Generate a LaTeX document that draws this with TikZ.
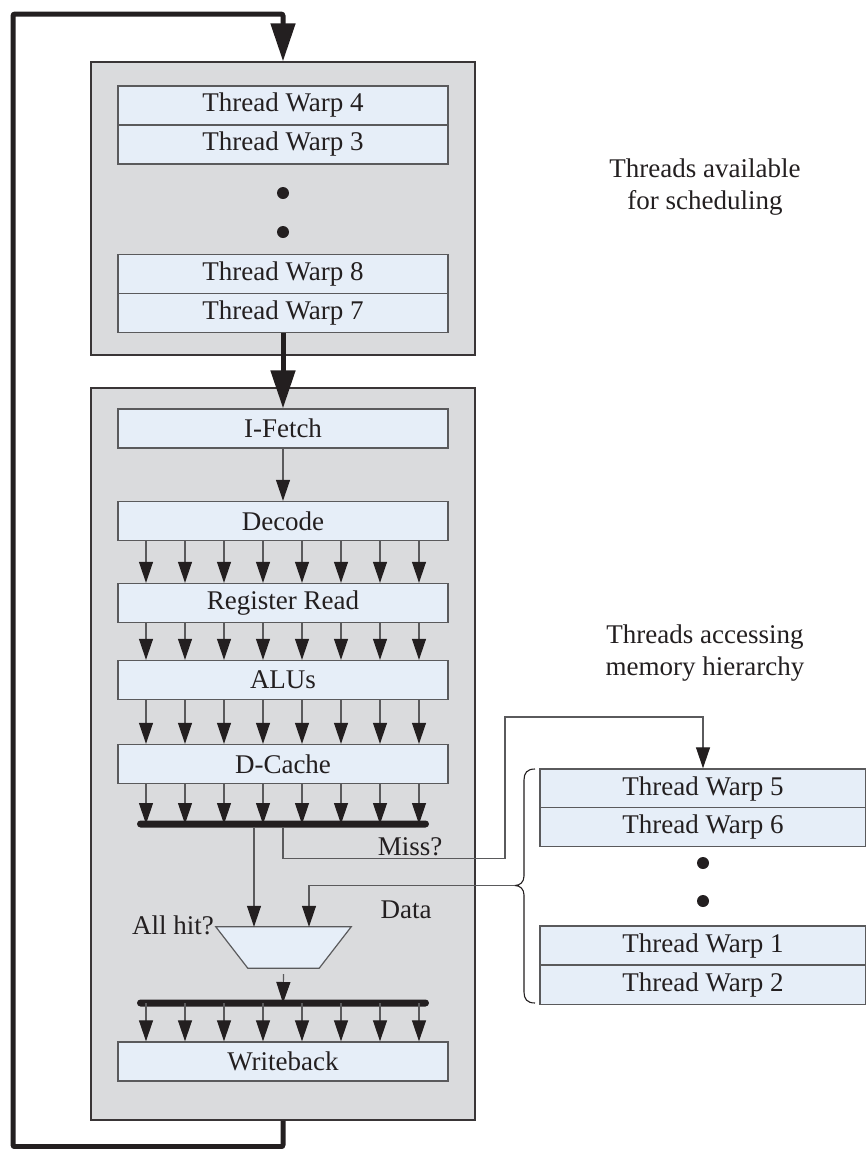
\documentclass[tikz,border=0pt]{standalone}
\usepackage{fontspec}
\setmainfont{Liberation Serif}
\usetikzlibrary{arrows.meta}
\definecolor{ink}{HTML}{231F20}
\definecolor{panel}{HTML}{DADBDD}
\definecolor{cell}{HTML}{E6EEF8}
\definecolor{edge}{HTML}{5A5A5C}
\begin{document}
\begin{tikzpicture}[x=1pt,y=-1pt,
  font=\fontsize{27}{32}\selectfont, text=ink,
  panelbox/.style={draw=ink!90, line width=1.4pt, fill=panel, inner sep=0pt},
  cellbox/.style={draw=edge, line width=1.4pt, fill=cell, inner sep=0pt,
    minimum width=330pt, minimum height=39pt},
  warpbox/.style={cellbox, minimum width=326pt},
  busbar/.style={fill=ink, inner sep=0pt, minimum width=292pt,
    minimum height=7pt, rounded corners=3.5pt},
  dotmark/.style={circle, fill=ink, inner sep=0pt, minimum size=12pt},
  lbl/.style={inner sep=0pt, align=center},
  thickarrow/.style={draw=ink, line width=5pt, rounded corners=2pt,
    -{Triangle[length=38pt,width=24pt,color=ink]}},
  thinline/.style={draw=edge, line width=1.2pt},
  thinarrow/.style={thinline, -{Triangle[length=21pt,width=14pt,color=ink]}}
]
\useasboundingbox (0,0) rectangle (866,1149);

% grey panels
\node[panelbox, minimum width=384pt, minimum height=293pt] (sched) at (283,208.5) {};
\node[panelbox, minimum width=384pt, minimum height=732pt] (pipe) at (283,754) {};

% warps waiting to be scheduled
\node[cellbox] (w4) at (283,105.5) {Thread Warp 4};
\node[cellbox] (w3) at (283,144.5) {Thread Warp 3};
\node[dotmark] (sd1) at (283,193) {};
\node[dotmark] (sd2) at (283,232) {};
\node[cellbox] (w8) at (283,274) {Thread Warp 8};
\node[cellbox] (w7) at (283,313) {Thread Warp 7};

% pipeline stages
\node[cellbox] (ifetch) at (283,428.5) {I-Fetch};
\node[cellbox] (dec) at (283,521) {Decode};
\node[cellbox] (rr) at (283,603) {Register Read};
\node[cellbox] (alu) at (283,680) {ALUs};
\node[cellbox] (dc) at (283,764) {D-Cache};
\node[busbar] (bus1) at (283,824) {};
\node[minimum width=135pt, minimum height=41pt, inner sep=0pt] (mux) at (283.5,947.5) {};
\draw[thinline, fill=cell] (mux.north west) -- (mux.north east)
  -- ([xshift=-32pt]mux.south east) -- ([xshift=32pt]mux.south west) -- cycle;
\node[busbar] (bus2) at (283,1003) {};
\node[cellbox] (wb) at (283,1061.5) {Writeback};

% warps waiting on memory
\node[warpbox] (w5) at (703,788.5) {Thread Warp 5};
\node[warpbox] (w6) at (703,827) {Thread Warp 6};
\node[dotmark] (md1) at (703,863) {};
\node[dotmark] (md2) at (703,901) {};
\node[warpbox] (w1) at (703,945.5) {Thread Warp 1};
\node[warpbox] (w2) at (703,985) {Thread Warp 2};

% labels
\node[lbl] (avail) at (705,187) {Threads available\\for scheduling};
\node[lbl] (access) at (705,653) {Threads accessing\\memory hierarchy};
\node[lbl] (miss) at (410,847) {Miss?};
\node[lbl] (data) at (406,910) {Data};
\node[lbl, anchor=east] (allhit) at (214,925) {All hit?};

% issue loop
\draw[thickarrow] (pipe.south) -- ++(0,26) -| (13,14) -| (sched.north);
\draw[thickarrow] (w7.south) -- (ifetch.north);
\draw[thinarrow] (ifetch.south) -- (dec.north);

% per-lane connections
\foreach \i in {0,...,7} {
  \draw[thinarrow] ([xshift={-137pt+\i*39pt}]dec.south) -- ([xshift={-137pt+\i*39pt}]rr.north);
  \draw[thinarrow] ([xshift={-137pt+\i*39pt}]rr.south) -- ([xshift={-137pt+\i*39pt}]alu.north);
  \draw[thinarrow] ([xshift={-137pt+\i*39pt}]alu.south) -- ([xshift={-137pt+\i*39pt}]dc.north);
  \draw[thinarrow] ([xshift={-137pt+\i*39pt}]dc.south) -- ([xshift={-137pt+\i*39pt}]bus1.center);
  \draw[thinarrow] ([xshift={-137pt+\i*39pt}]bus2.center) -- ([xshift={-137pt+\i*39pt}]wb.north);
}

% hit path, miss path and returning data
\draw[thinarrow] ([xshift=-29pt]bus1.south) -- ([xshift=-29.5pt]mux.north);
\draw[thinarrow] (bus1.south) -- ++(0,31) -| (505,717) -| (w5.north);
\coordinate (brtip) at (515,885.5);
\draw[thinline, draw=ink, line width=1.1pt]
  (535,769) .. controls (527,769) and (524,773) .. (524,780) -- (524,876)
  .. controls (524,882) and (520,885.5) .. (brtip)
  .. controls (520,885.5) and (524,889) .. (524,895) -- (524,992)
  .. controls (524,999) and (527,1003) .. (535,1003);
\draw[thinarrow] (brtip) -| ([xshift=25.5pt]mux.north);
\draw[thinarrow] ([yshift=-6pt]mux.south) -- (bus2.center);
\end{tikzpicture}
\end{document}
